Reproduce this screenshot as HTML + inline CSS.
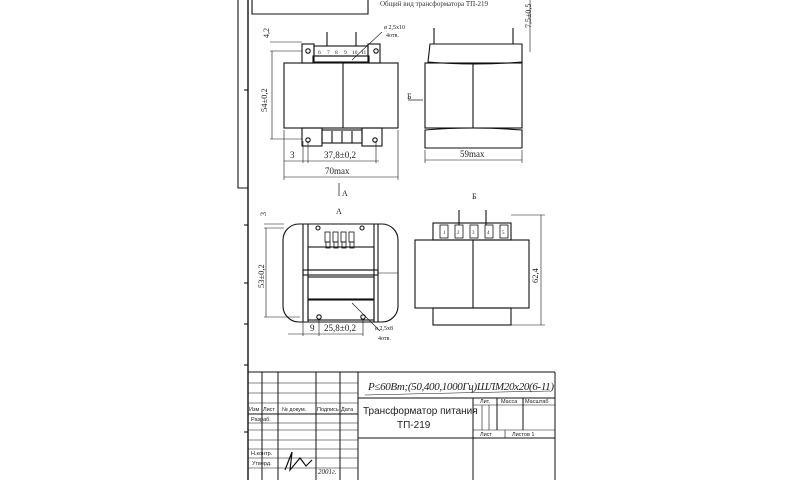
<!DOCTYPE html>
<html><head><meta charset="utf-8"><style>
html,body{margin:0;padding:0;background:#fff;}
svg{display:block;font-family:"Liberation Serif",serif;}
.s{font-family:"Liberation Sans","DejaVu Sans",sans-serif;}
</style></head><body>
<svg width="800" height="480" viewBox="0 0 800 480" xmlns="http://www.w3.org/2000/svg" fill="none" stroke="#111" stroke-width="1.1">
<!-- frame -->
<line x1="248" y1="0" x2="248" y2="480" stroke-width="1.4"/>
<polyline points="238,0 238,188 248,188" />
<line x1="244" y1="90" x2="248" y2="90"/>
<line x1="244" y1="225" x2="248" y2="225"/>
<line x1="244" y1="283" x2="248" y2="283"/>
<line x1="244" y1="324" x2="248" y2="324"/>
<line x1="244" y1="365" x2="248" y2="365"/>
<line x1="244" y1="432" x2="248" y2="432"/>
<polyline points="252,0 252,14 368,14 368,0"/>
<text x="380" y="6" font-size="7" fill="#333" stroke="none">Общий вид трансформатора ТП-219</text>

<!-- top-left view -->
<rect x="302" y="44" width="12" height="19"/>
<rect x="368" y="44" width="12" height="19"/>
<circle cx="308" cy="51" r="2.2"/><circle cx="376" cy="51" r="2.2"/>
<rect x="314" y="46" width="54" height="10"/>
<g font-size="5.5" fill="#222" stroke="none"><text x="318" y="54">6</text><text x="327" y="54">7</text><text x="335" y="54">8</text><text x="344" y="54">9</text><text x="352" y="54">10</text><text x="361" y="54">11</text></g>
<line x1="327" y1="32" x2="327" y2="46"/><line x1="356" y1="32" x2="356" y2="46"/>
<rect x="313" y="56" width="56" height="6"/>
<rect x="284" y="63" width="114" height="65"/>
<line x1="343" y1="63" x2="343" y2="128"/>
<rect x="302" y="128" width="20" height="18"/><rect x="362" y="128" width="20" height="18"/>
<circle cx="308" cy="140" r="2.2"/><circle cx="375" cy="140" r="2.2"/>
<rect x="322" y="130" width="40" height="13"/>
<line x1="332" y1="131" x2="332" y2="143"/><line x1="342" y1="131" x2="342" y2="143"/><line x1="352" y1="131" x2="352" y2="143"/>
<!-- dims -->
<g stroke-width="0.6">
<line x1="270" y1="42" x2="302" y2="42"/>
<line x1="270" y1="51" x2="302" y2="51"/>
<line x1="270" y1="139" x2="302" y2="139"/>
<line x1="272" y1="51" x2="272" y2="139"/>
<line x1="284" y1="161" x2="379" y2="161"/>
<line x1="303" y1="141" x2="303" y2="163"/>
<line x1="308" y1="141" x2="308" y2="163"/>
<line x1="376" y1="141" x2="376" y2="163"/>
<line x1="284" y1="130" x2="284" y2="180"/>
<line x1="398" y1="130" x2="398" y2="180"/>
<line x1="284" y1="177" x2="398" y2="177"/>
</g>
<text transform="translate(269,38) rotate(-90)" font-size="8" fill="#222" stroke="none">4,2</text>
<text transform="translate(267,112) rotate(-90)" font-size="8.5" fill="#222" stroke="none">54±0,2</text>
<text x="290" y="158" font-size="9" fill="#222" stroke="none">3</text>
<text x="324" y="158" font-size="9" fill="#222" stroke="none">37,8±0,2</text>
<text x="325" y="174" font-size="9" fill="#222" stroke="none">70max</text>
<line x1="339" y1="183" x2="339" y2="196" stroke-width="0.7"/>
<text x="342" y="196" font-size="8" fill="#222" stroke="none">A</text>
<line x1="352" y1="60" x2="382" y2="32" stroke-width="0.6"/>
<text x="384" y="29" font-size="6" fill="#222" stroke="none">ø 2,5х10</text>
<text x="386" y="37" font-size="6" fill="#222" stroke="none">4отв.</text>

<!-- side view -->
<path d="M430,44 L522,44 L522,62 Q475,66 428,62 Z"/>
<line x1="434" y1="28" x2="434" y2="44"/><line x1="513" y1="28" x2="513" y2="44"/>
<rect x="425" y="63" width="97" height="65"/>
<line x1="473" y1="63" x2="473" y2="128"/>
<path d="M425,130 Q473,126 522,130 L522,148 L425,148 Z"/>
<g stroke-width="0.6">
<line x1="425" y1="150" x2="425" y2="163"/><line x1="522" y1="150" x2="522" y2="163"/>
<line x1="425" y1="160" x2="522" y2="160"/>
</g>
<text x="460" y="157" font-size="9" fill="#222" stroke="none">59max</text>
<text x="407" y="99" font-size="8" fill="#222" stroke="none">Б</text>
<line x1="408" y1="100" x2="423" y2="100" stroke-width="0.7"/>
<line x1="530" y1="0" x2="530" y2="52" stroke-width="0.6"/>
<text transform="translate(531,28) rotate(-90)" font-size="8" fill="#222" stroke="none">7,5±0,5</text>
<text x="472" y="199" font-size="8" fill="#222" stroke="none">Б</text>

<!-- view A -->
<text x="336" y="214" font-size="8" fill="#222" stroke="none">A</text>
<rect x="283" y="224" width="115" height="98" rx="16"/>
<line x1="303" y1="224" x2="303" y2="322"/><line x1="378" y1="224" x2="378" y2="322"/>
<line x1="308" y1="224" x2="308" y2="322"/><line x1="374" y1="224" x2="374" y2="322"/>
<rect x="308" y="247" width="66" height="23"/>
<rect x="303" y="270" width="75" height="5"/>
<rect x="308" y="277" width="66" height="22"/>
<rect x="308" y="300" width="66" height="20"/>
<line x1="378" y1="273" x2="398" y2="273" stroke-width="0.6"/>
<circle cx="318" cy="228" r="2"/><circle cx="362" cy="228" r="2"/>
<circle cx="319" cy="317" r="2.2"/><circle cx="363" cy="317" r="2.2"/>
<g stroke-width="0.8">
<rect x="325" y="232" width="5" height="10"/><rect x="333" y="232" width="5" height="10"/><rect x="341" y="232" width="5" height="10"/><rect x="349" y="232" width="5" height="10"/>
<rect x="326" y="242" width="4" height="6"/><rect x="334" y="242" width="4" height="6"/><rect x="342" y="242" width="4" height="6"/><rect x="350" y="242" width="4" height="6"/>
</g>
<g stroke-width="0.6">
<line x1="264" y1="224" x2="284" y2="224"/>
<line x1="264" y1="228" x2="284" y2="228"/>
<line x1="264" y1="317" x2="300" y2="317"/>
<line x1="266" y1="228" x2="266" y2="317"/>
<line x1="288" y1="334" x2="363" y2="334"/>
<line x1="303" y1="322" x2="303" y2="336"/>
<line x1="319" y1="320" x2="319" y2="336"/>
<line x1="363" y1="320" x2="363" y2="336"/>
<line x1="352" y1="303" x2="380" y2="331"/>
</g>
<text transform="translate(266,216) rotate(-90)" font-size="8" fill="#222" stroke="none">3</text>
<text transform="translate(264,288) rotate(-90)" font-size="8.5" fill="#222" stroke="none">53±0,2</text>
<text x="310" y="331" font-size="9" fill="#222" stroke="none">9</text>
<text x="324" y="331" font-size="9" fill="#222" stroke="none">25,8±0,2</text>
<text x="375" y="330" font-size="6" fill="#222" stroke="none">ø 2,5х8</text>
<text x="378" y="340" font-size="6" fill="#222" stroke="none">4отв.</text>

<!-- view Б -->
<rect x="433" y="223" width="78" height="17"/>
<g stroke-width="0.8"><rect x="440" y="225" width="8" height="13"/><rect x="455" y="225" width="8" height="13"/><rect x="470" y="225" width="8" height="13"/><rect x="485" y="225" width="8" height="13"/><rect x="500" y="225" width="8" height="13"/></g>
<g font-size="5" fill="#222" stroke="none"><text x="443" y="234">1</text><text x="457" y="234">2</text><text x="472" y="234">3</text><text x="487" y="234">4</text><text x="502" y="234">5</text></g>
<line x1="459" y1="210" x2="459" y2="225"/><line x1="486" y1="210" x2="486" y2="225"/>
<rect x="415" y="240" width="114" height="68"/>
<line x1="473" y1="240" x2="473" y2="308"/>
<rect x="433" y="308" width="78" height="17"/>
<g stroke-width="0.6">
<line x1="511" y1="215" x2="545" y2="215"/>
<line x1="511" y1="325" x2="545" y2="325"/>
<line x1="541" y1="215" x2="541" y2="325"/>
</g>
<text transform="translate(538,283) rotate(-90)" font-size="8.5" fill="#222" stroke="none">62,4</text>

<!-- title block -->
<g stroke-width="1">
<line x1="248" y1="372" x2="555" y2="372"/>
<line x1="555" y1="372" x2="555" y2="480"/>
<line x1="262" y1="372" x2="262" y2="480"/>
<line x1="278" y1="372" x2="278" y2="480"/>
<line x1="316" y1="372" x2="316" y2="480"/>
<line x1="340" y1="372" x2="340" y2="480"/>
<line x1="358" y1="372" x2="358" y2="480"/>
<line x1="248" y1="383" x2="358" y2="383" stroke-width="0.6"/>
<line x1="248" y1="393" x2="358" y2="393" stroke-width="0.6"/>
<line x1="248" y1="403" x2="358" y2="403" stroke-width="0.6"/>
<line x1="248" y1="414" x2="358" y2="414"/>
<line x1="248" y1="423" x2="358" y2="423" stroke-width="0.6"/>
<line x1="248" y1="430" x2="358" y2="430" stroke-width="0.6"/>
<line x1="248" y1="440" x2="358" y2="440" stroke-width="0.6"/>
<line x1="248" y1="449" x2="358" y2="449" stroke-width="0.6"/>
<line x1="248" y1="458" x2="358" y2="458" stroke-width="0.6"/>
<line x1="248" y1="468" x2="358" y2="468" stroke-width="0.6"/>
<line x1="358" y1="398" x2="555" y2="398"/>
<line x1="358" y1="438" x2="555" y2="438"/>
<line x1="473" y1="398" x2="473" y2="480"/>
<line x1="473" y1="405" x2="555" y2="405" stroke-width="0.6"/>
<line x1="473" y1="430" x2="555" y2="430" stroke-width="0.6"/>
<line x1="482" y1="405" x2="482" y2="430" stroke-width="0.6"/>
<line x1="489" y1="405" x2="489" y2="430" stroke-width="0.6"/>
<line x1="497" y1="398" x2="497" y2="430"/>
<line x1="523" y1="398" x2="523" y2="430"/>
<line x1="505" y1="430" x2="505" y2="438" stroke-width="0.6"/>
</g>
<g class="s" fill="#222" stroke="none" font-size="5.5">
<text x="249" y="411">Изм</text><text x="263" y="411">Лист</text><text x="282" y="411">№ докум.</text><text x="317" y="411">Подпись</text><text x="341" y="411">Дата</text>
<text x="251" y="421">Разраб.</text>
<text x="251" y="455">Н.контр.</text>
<text x="252" y="465">Утверд.</text>
<text x="480" y="403">Лит.</text><text x="501" y="403">Масса</text><text x="525" y="403">Масштаб</text>
<text x="480" y="436">Лист</text><text x="512" y="436">Листов 1</text>
</g>
<text class="s" x="363" y="414" font-size="10" fill="#222" stroke="none">Трансформатор питания</text>
<text class="s" x="397" y="428" font-size="10" fill="#222" stroke="none">ТП-219</text>
<text x="368" y="390" font-size="11" font-style="italic" fill="#222" stroke="none" textLength="186">P≤60Вт;(50,400,1000Гц)ШЛМ20х20(6-11)</text>
<path d="M365,395 Q450,393 550,391" stroke-width="0.5"/>
<path d="M285,470 L292,452 L290,470 L300,458 L306,466 L312,460" stroke-width="1.2"/>
<text x="318" y="474" font-size="7" font-style="italic" fill="#222" stroke="none">2001г.</text>
</svg>
</body></html>
